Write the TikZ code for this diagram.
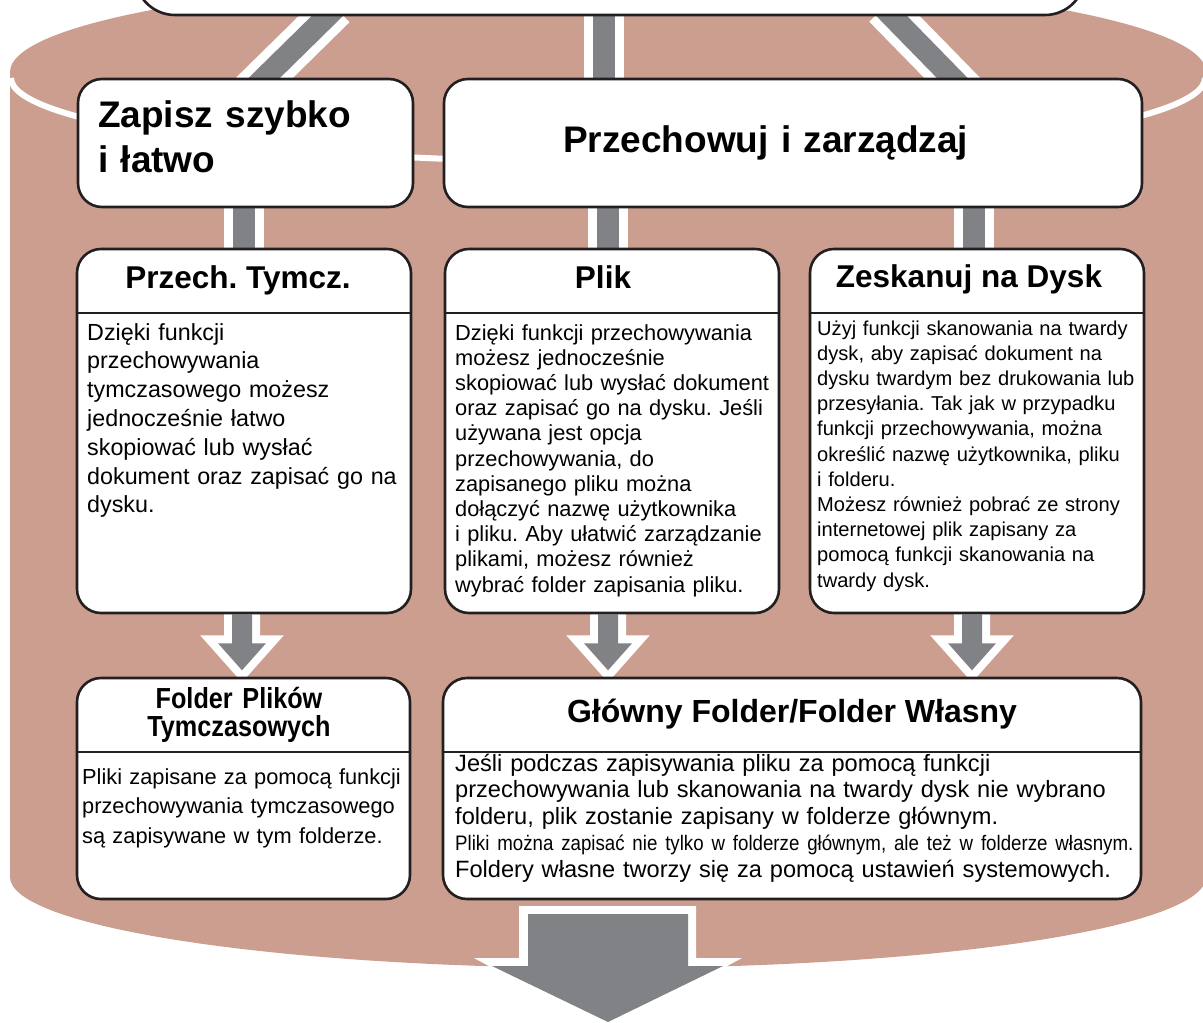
\documentclass[tikz,border=0pt]{standalone}
\usepackage{fontspec}
\setmainfont{Liberation Sans}
\newfontfamily\narrowfont[FakeStretch=0.89]{Liberation Sans}
\newfontfamily\narrowbold[FakeStretch=0.87]{Liberation Sans Bold}
\usetikzlibrary{backgrounds}
\definecolor{cylBrown}{HTML}{CC9E8F}
\definecolor{bandGray}{HTML}{808285}
\definecolor{ink}{HTML}{231F20}
\frenchspacing

\tikzset{
  dropArrow/.pic={
    \filldraw[draw=white, fill=bandGray, line width=16pt]
      (-10,0) -- (-10,29) -- (-24,29) -- (0,56) -- (24,29) -- (10,29) -- (10,0) -- cycle;
    \fill[bandGray]
      (-10,0) -- (-10,29) -- (-24,29) -- (0,56) -- (24,29) -- (10,29) -- (10,0) -- cycle;
  }
}

\begin{document}
\begin{tikzpicture}[
  x=1pt, y=-1pt,
  card/.style={draw=ink, line width=2.6pt, fill=white, rounded corners=24pt,
               inner sep=0pt},
  head/.style={font=\fontsize{37}{45}\selectfont\bfseries, inner sep=0pt,
               anchor=base west, align=left, text width=#1},
  cardtitle/.style={font=\fontsize{31.5}{36}\selectfont\bfseries, inner sep=0pt,
                    anchor=base},
  cardtext/.style={inner sep=0pt, anchor=base west, align=left, text width=#1},
  band/.style={draw=white, double=bandGray, double distance=22pt, line width=9pt},
  divider/.style={draw=ink, line width=2.4pt},
]
  \useasboundingbox (0,0) rectangle (1203,1023);

  % --- top row ---
  \node[card, rounded corners=40pt, minimum width=950, minimum height=100] (topBox) at (610,-35) {};
  \node[card, minimum width=335, minimum height=128] (zapBox) at (245.5,143) {};
  \node[card, minimum width=698, minimum height=128] (przBox) at (793,143) {};
  \node[head=300] (zapText) at (98,127) {Zapisz szybko\\i łatwo};
  \node[head=460] (przText) at (563,152) {Przechowuj i zarządzaj};

  % --- second row: storage modes ---
  \foreach \name/\cx in {tymBox/244, plikBox/612, skanBox/977}{
    \node[card, minimum width=334, minimum height=364] (\name) at (\cx,431) {};
    \draw[divider] (\name.west |- 0,313) -- (\name.east |- 0,313);
  }
  \node[cardtitle] (tymTitle) at (238,288) {Przech. Tymcz.};
  \node[cardtitle] (plikTitle) at (603,288) {Plik};
  \node[cardtitle] (skanTitle) at (969,287) {Zeskanuj na Dysk};

  \node[cardtext=480, font=\fontsize{23.3}{28.8}\selectfont] (tymText) at (87,340)
    {Dzięki funkcji\\przechowywania\\tymczasowego możesz\\jednocześnie łatwo\\skopiować lub wysłać\\dokument oraz zapisać go na\\dysku.};
  \node[cardtext=480, font=\fontsize{21.8}{25.2}\selectfont] (plikText) at (455,340)
    {Dzięki funkcji przechowywania\\możesz jednocześnie\\skopiować lub wysłać dokument\\oraz zapisać go na dysku. Jeśli\\używana jest opcja\\przechowywania, do\\zapisanego pliku można\\dołączyć nazwę użytkownika\\i pliku. Aby ułatwić zarządzanie\\plikami, możesz również\\wybrać folder zapisania pliku.};
  \node[cardtext=480, font=\fontsize{20.1}{25.2}\selectfont] (skanText) at (817,335)
    {Użyj funkcji skanowania na twardy\\dysk, aby zapisać dokument na\\dysku twardym bez drukowania lub\\przesyłania. Tak jak w przypadku\\funkcji przechowywania, można\\określić nazwę użytkownika, pliku\\i folderu.\\Możesz również pobrać ze strony\\internetowej plik zapisany za\\pomocą funkcji skanowania na\\twardy dysk.};

  % --- third row: folders ---
  \node[card, minimum width=333, minimum height=221] (tfBox) at (243.5,788.5) {};
  \node[card, minimum width=698, minimum height=221] (gfBox) at (792,788.5) {};
  \draw[divider] (tfBox.west |- 0,752) -- (tfBox.east |- 0,752);
  \draw[divider] (gfBox.west |- 0,752) -- (gfBox.east |- 0,752);

  \node[inner sep=0pt, anchor=base, align=center, text width=320,
        font=\narrowbold\fontsize{29}{28}\selectfont] (tfTitle) at (239,708)
    {Folder Plików\\Tymczasowych};
  \node[cardtitle, font=\fontsize{32}{36}\selectfont\bfseries] (gfTitle) at (792,722)
    {Główny Folder/Folder Własny};
  \node[cardtext=480, font=\fontsize{21.8}{29.5}\selectfont] (tfText) at (82,784)
    {Pliki zapisane za pomocą funkcji\\przechowywania tymczasowego\\są zapisywane w tym folderze.};
  \node[cardtext=900, font=\fontsize{23.6}{26.5}\selectfont] (gfText) at (455,771)
    {Jeśli podczas zapisywania pliku za pomocą funkcji\\przechowywania lub skanowania na twardy dysk nie wybrano\\folderu, plik zostanie zapisany w folderze głównym.\\{\narrowfont\fontsize{21}{26.5}\selectfont Pliki można zapisać nie tylko w folderze głównym, ale też w folderze własnym.}\\Foldery własne tworzy się za pomocą ustawień systemowych.};

  \coordinate (outTip) at (608,1022);

  \begin{scope}[on background layer]
    % --- cylinder ---
    \fill[cylBrown] (10,72) -- (10,877)
      arc[start angle=180, end angle=0, x radius=598, y radius=91] -- (1206,72) -- cycle;
    \fill[cylBrown] (608,72) ellipse [x radius=598, y radius=96];
    \draw[white, line width=6pt] (11,78)
      arc[start angle=180, end angle=0, x radius=597, y radius=84];

    % --- bands between the boxes ---
    \draw[band, shorten <=-12pt, shorten >=-20pt] ([xshift=-283pt]topBox.south) -- ([xshift=19pt]zapBox.north);
    \draw[band, shorten <=-12pt, shorten >=-20pt] ([xshift=282pt]topBox.south) -- ([xshift=159pt]przBox.north);
    \draw[band, shorten <=-12pt, shorten >=-12pt] ([xshift=-6pt]topBox.south) -- ([xshift=-6pt]topBox.south |- przBox.north);
    \draw[band, shorten <=-12pt, shorten >=-12pt] (zapBox.south -| tymBox.north) -- (tymBox.north);
    \draw[band, shorten <=-12pt, shorten >=-12pt] ([xshift=-4pt]przBox.south -| plikBox.north) -- ([xshift=-4pt]plikBox.north);
    \draw[band, shorten <=-12pt, shorten >=-12pt] ([xshift=-3pt]przBox.south -| skanBox.north) -- ([xshift=-3pt]skanBox.north);

    % --- drop arrows ---
    \foreach \src/\dx in {tymBox/-2, plikBox/-4, skanBox/-5}{
      \pic at ([xshift=\dx pt]\src.south) {dropArrow};
    }

    % --- outgoing arrow ---
    \begin{scope}[shift={(outTip)}]
      \fill[white] (-89,-116) -- (-89,-64) -- (-134,-64) -- (0,8) -- (134,-64) -- (88,-64) -- (88,-116) -- cycle;
      \fill[bandGray] (-80,-108) -- (-80,-56) -- (-116,-56) -- (0,0) -- (115,-56) -- (80,-56) -- (80,-108) -- cycle;
    \end{scope}
  \end{scope}
\end{tikzpicture}
\end{document}
